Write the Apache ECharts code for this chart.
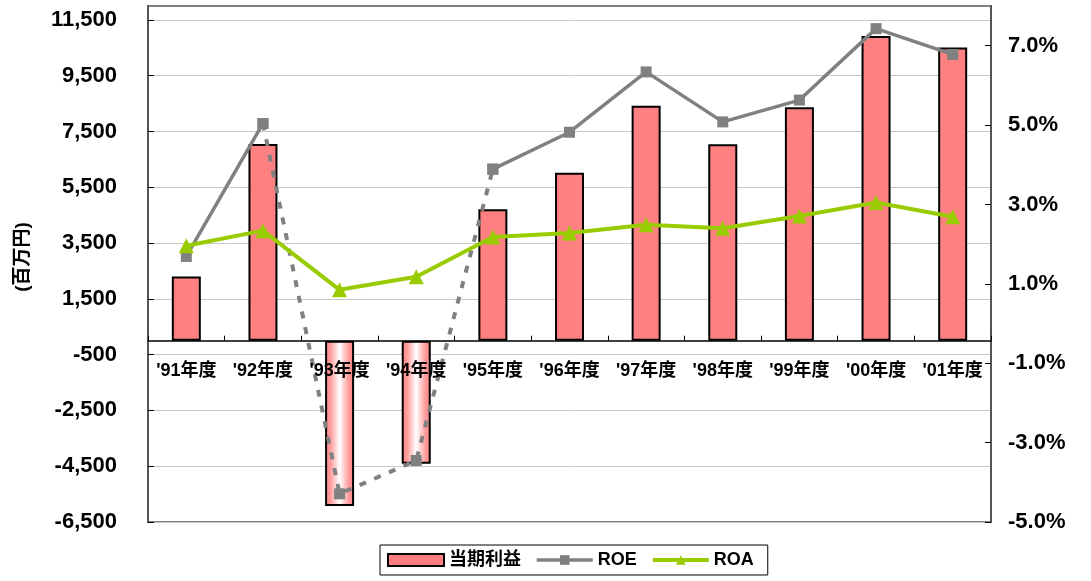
<!DOCTYPE html>
<html>
<head>
<meta charset="utf-8">
<script src="https://cdn.jsdelivr.net/npm/echarts@6/dist/echarts.min.js"></script>
<style>
html,body{margin:0;padding:0;background:#fff;}
#chart{width:1091px;height:581px;}
</style>
</head>
<body>
<div id="chart"></div>
<script>
const categories = ["'91年度", "'92年度", "'93年度", "'94年度", "'95年度", "'96年度", "'97年度", "'98年度", "'99年度", "'00年度", "'01年度"];
const profit = [2300, 7050, -5930, -4415, 4715, 6025, 8425, 7045, 8370, 10920, 10515];
const roe = [1.69, 5.04, -4.29, -3.45, 3.89, 4.82, 6.34, 5.08, 5.63, 7.43, 6.78];
const roa = [1.96, 2.34, 0.85, 1.18, 2.18, 2.28, 2.49, 2.40, 2.71, 3.05, 2.69];
const roeDashedYears = ["'93年度", "'94年度"];
const leftTicks = [-6500, -4500, -2500, -500, 1500, 3500, 5500, 7500, 9500, 11500];
const rightTicks = [-5, -3, -1, 1, 3, 5, 7];
const seriesNames = ['当期利益', 'ROE', 'ROA'];

const FONT = '"Liberation Sans", Arial, "Noto Sans CJK JP", sans-serif';

const isDashed = i => roeDashedYears.indexOf(categories[i]) >= 0;
const roeSolid = roe.map((v, i) => isDashed(i) ? null : v);
const roeDash = roe.map((v, i) => (isDashed(i) || (i > 0 && isDashed(i - 1)) || (i < roe.length - 1 && isDashed(i + 1))) ? v : null);

const negGradient = {
  type: 'linear', x: 0, y: 0, x2: 1, y2: 0,
  colorStops: [
    {offset: 0, color: '#ff8080'},
    {offset: 0.2, color: '#ffa0a0'},
    {offset: 0.35, color: '#ffd0d0'},
    {offset: 0.5, color: '#ffffff'},
    {offset: 0.65, color: '#ffd0d0'},
    {offset: 0.8, color: '#ffa0a0'},
    {offset: 1, color: '#ff8080'}
  ]
};
const barData = profit.map(v => v < 0 ? {value: v, itemStyle: {color: negGradient}} : v);

const fmtThousands = v => (v < 0 ? '-' : '') + Math.abs(v).toLocaleString('en-US');

const chart = echarts.init(document.getElementById('chart'), null, {renderer: 'canvas'});
chart.setOption({
  animation: false,
  backgroundColor: '#fff',
  textStyle: {fontFamily: FONT},
  grid: {left: 148, right: 100, top: 6, bottom: 59, show: true, borderColor: '#808080', borderWidth: 2, backgroundColor: 'transparent'},
  legend: {
    left: 380, top: 545,
    padding: [6, 14, 6, 7],
    borderColor: '#000', borderWidth: 1, backgroundColor: '#fff',
    itemWidth: 56, itemHeight: 12, itemGap: 14,
    textStyle: {fontFamily: FONT, fontSize: 18, fontWeight: 'bold', color: '#000'},
    data: [
      {name: seriesNames[0], icon: 'rect'},
      {name: seriesNames[1], lineStyle: {width: 3.5, color: '#808080'}},
      {name: seriesNames[2], lineStyle: {width: 4, color: '#99cc00'}}
    ]
  },
  xAxis: {
    type: 'category',
    data: categories,
    z: 10,
    boundaryGap: true,
    axisLine: {show: true, onZero: true, onZeroAxisIndex: 0, lineStyle: {color: '#000', width: 1.5}},
    axisTick: {show: true, inside: true, length: 5, interval: 0, lineStyle: {color: '#000'}},
    axisLabel: {interval: 0, margin: -160, fontSize: 18, fontWeight: 'bold', color: '#000', fontFamily: FONT},
    splitLine: {show: false}
  },
  yAxis: [
    {
      type: 'value', min: -6500, max: 12000,
      name: '(百万円)', nameLocation: 'middle', nameRotate: 90, nameGap: 116,
      nameTextStyle: {fontSize: 19, fontWeight: 'bold', color: '#000', fontFamily: FONT, padding: [0, 0, 0, 14]},
      axisLine: {show: true, lineStyle: {color: '#555', width: 2}},
      axisTick: {show: true, inside: true, length: 6, customValues: leftTicks, lineStyle: {color: '#000'}},
      axisLabel: {customValues: leftTicks, formatter: fmtThousands, margin: 31, fontSize: 22, fontWeight: 'bold', color: '#000', fontFamily: FONT},
      splitLine: {show: true, lineStyle: {color: '#c8c8c8', width: 1}}
    },
    {
      type: 'value', min: -5, max: 8,
      axisLine: {show: true, lineStyle: {color: '#555', width: 2}},
      axisTick: {show: true, inside: true, length: 6, customValues: rightTicks, lineStyle: {color: '#000'}},
      axisLabel: {customValues: rightTicks, formatter: v => v.toFixed(1) + '%', margin: 17, fontSize: 22, fontWeight: 'bold', color: '#000', fontFamily: FONT},
      splitLine: {show: false}
    }
  ],
  series: [
    {
      name: seriesNames[0], type: 'bar', yAxisIndex: 0, data: barData,
      barWidth: 29,
      itemStyle: {color: '#ff8080', borderColor: '#000', borderWidth: 2}
    },
    {
      name: seriesNames[1], type: 'line', yAxisIndex: 1, data: roeSolid, connectNulls: false,
      symbol: 'rect', symbolSize: 11, z: 4,
      lineStyle: {color: '#808080', width: 3.5},
      itemStyle: {color: '#808080'}
    },
    {
      name: seriesNames[1], type: 'line', yAxisIndex: 1, data: roeDash, connectNulls: false,
      symbol: 'rect', symbolSize: 11, z: 4,
      lineStyle: {color: '#808080', width: 4, type: [7, 9]},
      itemStyle: {color: '#808080'}
    },
    {
      name: seriesNames[2], type: 'line', yAxisIndex: 1, data: roa,
      symbol: 'triangle', symbolSize: 15, z: 5,
      lineStyle: {color: '#99cc00', width: 4},
      itemStyle: {color: '#99cc00'}
    }
  ]
});
</script>
</body>
</html>
